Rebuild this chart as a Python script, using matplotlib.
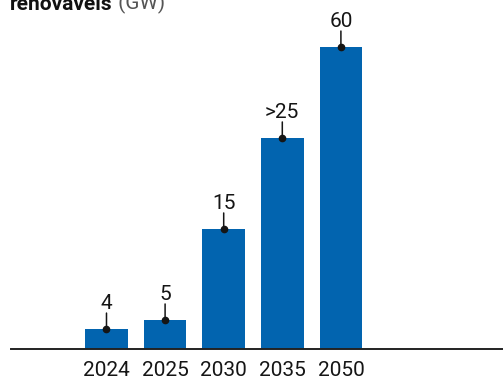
import numpy as np
import matplotlib
matplotlib.use("Agg")
import matplotlib.pyplot as plt

# Renewable capacity targets (GW)
years = ["2024", "2025", "2030", "2035", "2050"]
values = [4, 5, 15, 25, 60]
value_labels = ["4", "5", "15", ">25", "60"]

BAR_COLOR = "#0264AF"
INK = "#151515"

plt.rcParams["font.family"] = ["Roboto", "DejaVu Sans"]

DPI = 100
W, H = 503, 381
fig = plt.figure(figsize=(W / DPI, H / DPI), dpi=DPI)

# axes: baseline sits 32 px above the bottom edge, runs from x=10.5 px to the right edge
ax = fig.add_axes([10.5 / W, 32 / H, 1 - 10.5 / W, 1 - 32 / H])

# value axis is linear up to the break, compressed above it
BREAK, K = 25.0, 0.2855


def fwd(v):
    v = np.asarray(v, dtype=float)
    return np.where(v <= BREAK, v, BREAK + (v - BREAK) * K)


def inv(u):
    u = np.asarray(u, dtype=float)
    return np.where(u <= BREAK, u, BREAK + (u - BREAK) / K)


ax.set_yscale("function", functions=(fwd, inv))

x = np.arange(len(years))
ax.bar(x, values, width=0.73, color=BAR_COLOR, zorder=2)

px = 72 / DPI  # points per pixel
for xi, v, lab in zip(x, values, value_labels):
    ax.annotate("", xy=(xi, v), xytext=(0, 16 * px), textcoords="offset points",
                arrowprops=dict(arrowstyle="-", lw=1.1, color=INK,
                                shrinkA=0, shrinkB=0), zorder=4)
    ax.plot([xi], [v], "o", ms=4.5, color=INK, zorder=5, clip_on=False)
    ax.annotate(lab, xy=(xi, v), xytext=(0, 20 * px), textcoords="offset points",
                ha="center", va="baseline", fontsize=15, color=INK)

ax.set_xlim(-1.638, 6.766)
ax.set_ylim(1.81, 78.1)

ax.set_xticks(x)
ax.set_xticklabels(years, fontsize=15, color=INK)
ax.tick_params(axis="x", length=0, pad=9.0)
ax.set_yticks([])
ax.yaxis.set_minor_locator(matplotlib.ticker.NullLocator())
for side in ("top", "left", "right"):
    ax.spines[side].set_visible(False)
ax.spines["bottom"].set_linewidth(1.4)
ax.spines["bottom"].set_color("#222222")
ax.patch.set_alpha(0)

# title line
t1 = fig.text(10 / W, 1 - 9.5 / H, "renováveis", fontsize=15, fontweight="bold",
              color="#111111", va="baseline", ha="left")
ax.annotate(" (GW)", xy=(1, 0), xycoords=t1, va="bottom", ha="left",
            fontsize=15, color="#555555", annotation_clip=False)

fig.savefig("out.png", dpi=DPI)
